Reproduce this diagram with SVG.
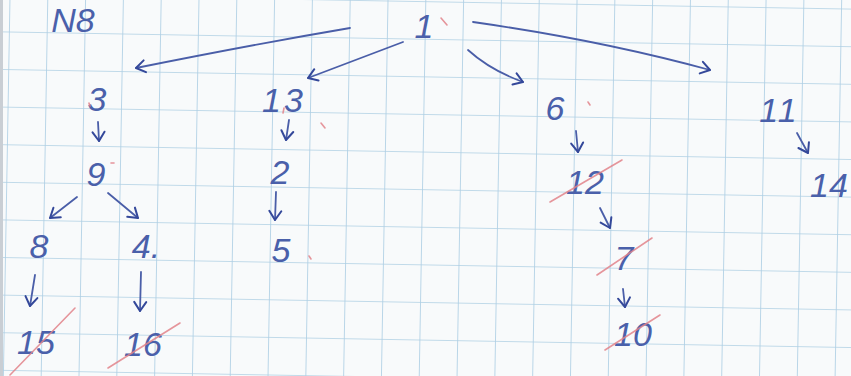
<svg xmlns="http://www.w3.org/2000/svg" width="851" height="376" viewBox="0 0 851 376">
<defs>
<pattern id="grid" width="37.8" height="37.6" patternUnits="userSpaceOnUse" patternTransform="translate(8.9,31.5) rotate(1)">
<path d="M0,0 L37.8,0 M0,0 L0,37.6" fill="none" stroke="#aecfe4" stroke-width="1.7"/>
</pattern>
<marker id="ah" viewBox="-12 -8 14 16" markerWidth="14" markerHeight="16" refX="0" refY="0" orient="auto" markerUnits="userSpaceOnUse">
<path d="M-9,-6 L0,0 L-9,6" fill="none" stroke="#34489a" stroke-width="2" stroke-linecap="round" stroke-linejoin="round"/>
</marker>
</defs>
<style>
.t{font-family:"Liberation Sans","DejaVu Sans",sans-serif;font-size:34px;fill:#4a60aa;text-anchor:middle;font-style:italic}
.c{fill:none;stroke:#4a5ea8;stroke-width:1.8;stroke-linecap:round}
.r{fill:none;stroke:#e2828a;stroke-width:1.6;stroke-linecap:round;opacity:0.85}
</style>
<rect width="851" height="376" fill="#f8fafb"/>
<rect width="851" height="376" fill="url(#grid)"/>
<rect x="0" y="0" width="3" height="376" fill="#c9ced4"/>

<g id="label-n8"><text class="t" x="73" y="32" font-size="30">N8</text></g>
<g id="n1"><text class="t" x="424" y="38">1</text></g>
<g id="n3"><text class="t" x="97" y="111">3</text></g>
<g id="n13"><text class="t" x="284" y="112" letter-spacing="3">13</text></g>
<g id="n6"><text class="t" x="555" y="120">6</text></g>
<g id="n11"><text class="t" x="779" y="122" letter-spacing="2">11</text></g>
<g id="n14"><text class="t" x="829" y="197">14</text></g>
<g id="n9"><text class="t" x="96" y="186">9</text></g>
<g id="n2"><text class="t" x="280" y="184">2</text></g>
<g id="n12"><text class="t" x="585" y="194">12</text></g>
<g id="n8"><text class="t" x="39" y="258">8</text></g>
<g id="n4"><text class="t" x="146" y="258">4.</text></g>
<g id="n5"><text class="t" x="281" y="262">5</text></g>
<g id="n7"><text class="t" x="624" y="270">7</text></g>
<g id="n15"><text class="t" x="36" y="354">15</text></g>
<g id="n16"><text class="t" x="143" y="356">16</text></g>
<g id="n10"><text class="t" x="633" y="346">10</text></g>

<g id="connectors">
<path class="c" d="M350,28 Q250,45 136,68" marker-end="url(#ah)"/>
<path class="c" d="M403,42 L308,78" marker-end="url(#ah)"/>
<path class="c" d="M468,50 Q490,70 523,82" marker-end="url(#ah)"/>
<path class="c" d="M473,22 Q600,40 710,70" marker-end="url(#ah)"/>
<path class="c" d="M98,122 L99,141" marker-end="url(#ah)"/>
<path class="c" d="M289,120 L286,140" marker-end="url(#ah)"/>
<path class="c" d="M77,197 L50,218" marker-end="url(#ah)"/>
<path class="c" d="M108,193 L138,218" marker-end="url(#ah)"/>
<path class="c" d="M276,192 L275,220" marker-end="url(#ah)"/>
<path class="c" d="M35,275 L30,306" marker-end="url(#ah)"/>
<path class="c" d="M141,272 L140,311" marker-end="url(#ah)"/>
<path class="c" d="M576,131 L578,152" marker-end="url(#ah)"/>
<path class="c" d="M797,133 L808,153" marker-end="url(#ah)"/>
<path class="c" d="M600,208 L610,228" marker-end="url(#ah)"/>
<path class="c" d="M623,289 L625,307" marker-end="url(#ah)"/>
</g>

<g id="red-marks">
<path class="r" d="M550,202 L622,160"/>
<path class="r" d="M597,275 L652,238"/>
<path class="r" d="M605,350 L660,315"/>
<path class="r" d="M10,375 L75,308"/>
<path class="r" d="M108,368 L180,323"/>
<path class="r" d="M441,18 L447,25"/>
<path class="r" d="M284,108 L283,113"/>
<path class="r" d="M111,163 L114,163"/>
<path class="r" d="M588,102 L590,105"/>
<path class="r" d="M321,123 L325,128"/>
<path class="r" d="M309,256 L311,259"/>
<path class="r" d="M89,103 L90,106"/>
</g>
</svg>
